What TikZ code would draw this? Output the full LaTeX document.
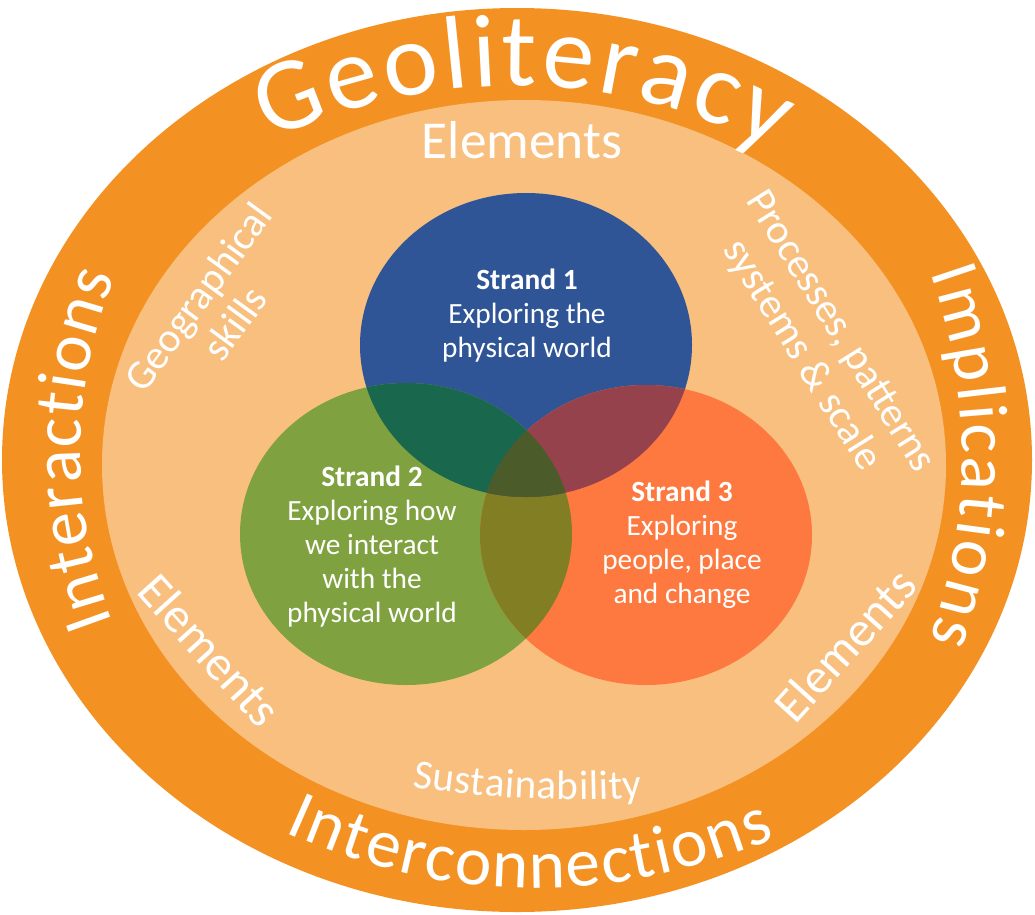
\documentclass[tikz,border=0pt]{standalone}
\usepackage{fontspec}
\setmainfont{Carlito}
\usetikzlibrary{decorations.text}

\definecolor{ringOrange}{RGB}{243,146,35}
\definecolor{ringLight}{RGB}{248,191,126}
\definecolor{strandBlue}{RGB}{47,85,151}
\definecolor{strandGreen}{RGB}{127,161,64}
\definecolor{strandOrange}{RGB}{254,121,64}
\definecolor{blueGreen}{RGB}{25,104,78}
\definecolor{blueOrange}{RGB}{150,66,76}
\definecolor{greenOrange}{RGB}{129,126,36}
\definecolor{allThree}{RGB}{75,92,42}

\newcommand\geofont{\color{white}\fontsize{78}{86}\selectfont}
\newcommand\bandfont{\color{white}\fontsize{52}{60}\selectfont}
\newcommand\sustfont{\color{white}\fontsize{31}{34}\selectfont}

\tikzset{every picture/.style={line width=0.75pt}}
\tikzset{
  ringword/.style={decorate, decoration={text along path, text align={fit to path}, text={#1}}},
  innerword/.style={text=white, align=center, inner sep=0.75pt},
  strandtext/.style={text=white, align=center, inner sep=0.75pt, font=\fontsize{22}{25.5}\selectfont}
}

\begin{document}
\begin{tikzpicture}[x=0.75pt,y=0.75pt]
\useasboundingbox (0,0) rectangle (1035,-914);

%Shape: Ellipse [outer ring]
\fill [ringOrange] (517,-460) ellipse [x radius=515, y radius=452];
%Shape: Ellipse [inner ring]
\fill [ringLight] (524,-465) ellipse [x radius=422, y radius=365];

%Shape: Ellipse [strand 1]
\fill [strandBlue] (526,-345) ellipse [x radius=166, y radius=152];
%Shape: Ellipse [strand 2]
\fill [strandGreen] (406,-534) ellipse [x radius=166, y radius=151];
%Shape: Ellipse [strand 3]
\fill [strandOrange] (646,-535) ellipse [x radius=166, y radius=150];

%Overlap strand 2 and 3
\begin{scope}
\clip (406,-534) ellipse [x radius=166, y radius=151];
\fill [greenOrange] (646,-535) ellipse [x radius=166, y radius=150];
\end{scope}
%Overlaps with strand 1
\begin{scope}
\clip (526,-345) ellipse [x radius=166, y radius=152];
\fill [blueGreen] (406,-534) ellipse [x radius=166, y radius=151];
\fill [blueOrange] (646,-535) ellipse [x radius=166, y radius=150];
\clip (406,-534) ellipse [x radius=166, y radius=151];
\fill [allThree] (646,-535) ellipse [x radius=166, y radius=150];
\end{scope}

% Curved Text
\path [ringword={|\geofont|Geoliteracy}] (270,-140) .. controls (438,-66) and (607,-66) .. (775,-150);
% Curved Text
\path [ringword={|\bandfont|Interactions}] (113,-622) .. controls (69,-505) and (69,-392) .. (115,-277);
% Curved Text
\path [ringword={|\bandfont|Implications}] (930,-273) .. controls (973,-395) and (973,-518) .. (930,-640);
% Curved Text
\path [ringword={|\bandfont|Interconnections}] (285,-832) .. controls (448,-906) and (612,-906) .. (775,-838);
% Curved Text
\path [ringword={|\sustfont|Sustainability}] (412,-787) .. controls (485,-798) and (570,-803) .. (642,-797);

% Text Node
\node [innerword, font=\fontsize{40}{44}\selectfont] (elemTop) at (522,-140) {Elements};
% Text Node
\node [innerword, font=\fontsize{31}{34}\selectfont, rotate=54] (geoSkills) at (216,-310) {Geographical\\skills};
% Text Node
\node [innerword, font=\fontsize{31}{34}\selectfont, rotate=-58] (procScale) at (820,-344) {Processes, patterns\\systems \& scale};
% Text Node
\node [innerword, font=\fontsize{37}{40}\selectfont, rotate=-48] (elemLeft) at (210,-650) {Elements};
% Text Node
\node [innerword, font=\fontsize{37}{40}\selectfont, rotate=48] (elemRight) at (845,-645) {Elements};

% Text Node
\node [strandtext] (strandA) at (527,-316) {\textbf{Strand 1}\\Exploring the\\physical world};
% Text Node
\node [strandtext] (strandB) at (372,-547) {\textbf{Strand 2}\\Exploring how\\we interact\\with the\\physical world};
% Text Node
\node [strandtext] (strandC) at (682,-545) {\textbf{Strand 3}\\Exploring\\people, place\\and change};

\end{tikzpicture}
\end{document}
